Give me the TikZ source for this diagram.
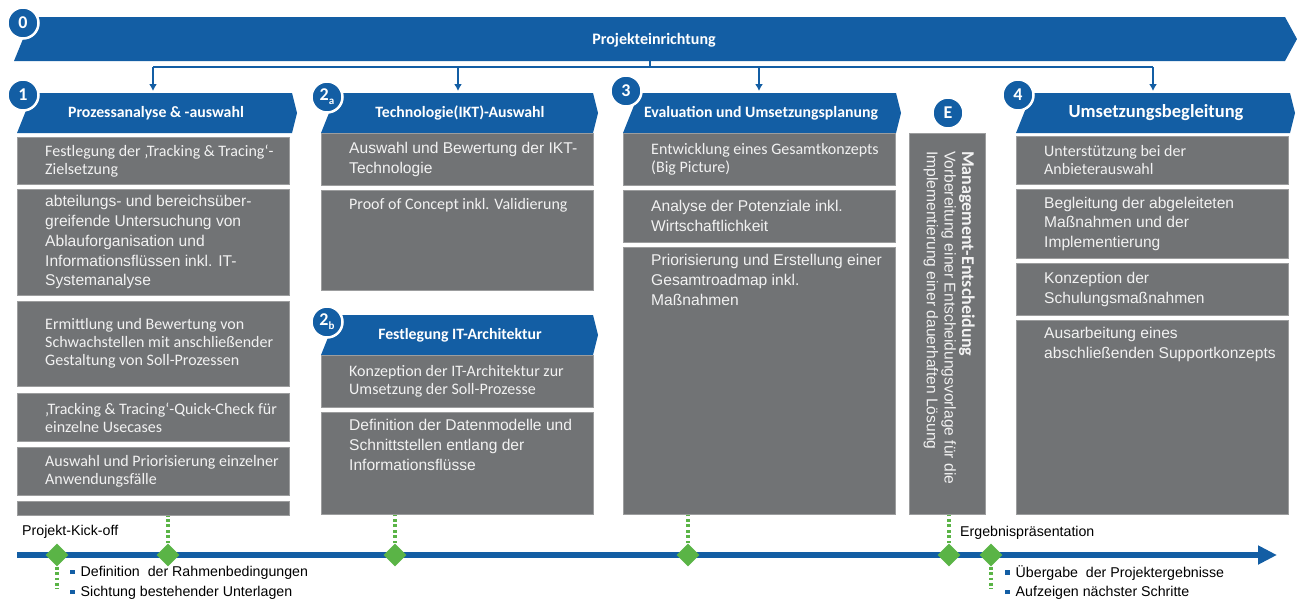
\documentclass[tikz,border=0pt]{standalone}
\usepackage{fontspec}
\setmainfont{Carlito}
\newfontfamily\arialfont{Liberation Sans}
\usetikzlibrary{arrows.meta,shapes.geometric,positioning,calc}
\definecolor{navy}{HTML}{135EA4}
\definecolor{slate}{HTML}{717375}
\definecolor{leaf}{HTML}{5AB446}
\definecolor{paper}{HTML}{F2F2F2}

\begin{document}
\begin{tikzpicture}[x=1pt,y=-1pt,>=Latex,
  numdot/.style={circle,fill=navy,draw=white,line width=2.5pt,minimum size=31pt,inner sep=0pt,
    text=white,font=\fontsize{18}{18}\selectfont\bfseries},
  head/.style={text=white,inner sep=0pt,font=\fontsize{15.8}{17}\selectfont\bfseries},
  gbox/.style={fill=slate,draw=slate!70!white,line width=0.6pt,anchor=north west,inner sep=0pt,
    minimum width=272pt},
  cal/.style={text=paper,align=left,inner sep=0pt,font=\fontsize{16}{18}\selectfont},
  ari/.style={text=paper,align=left,inner sep=0pt,font=\arialfont\fontsize{15.6}{19.8}\selectfont},
  conn/.style={navy,line width=2.2pt},
  mile/.style={diamond,fill=leaf,minimum size=23pt,inner sep=0pt},
  dots/.style={leaf,line width=3.2pt,dash pattern=on 2.8pt off 2.6pt},
  small/.style={inner sep=0pt,font=\arialfont\fontsize{14.2}{16}\selectfont}]
\useasboundingbox (0,0) rectangle (1297,603);

% banner 0
\fill[navy] (14,61) -- (32,17) -- (1285,17) -- (1297,39) -- (1285,61) -- cycle;
\node[head,font=\fontsize{16}{17}\selectfont\bfseries] (b0) at (654,40) {Projekteinrichtung};
\node[numdot] (n0) at (23,23) {0};

% branches down to the phases
\coordinate (top0) at (650,61);
\coordinate (hub) at (650,67);
\coordinate (a1) at (153,91);
\coordinate (a2) at (458,91);
\coordinate (a3) at (759,91);
\coordinate (a4) at (1153,91);
\draw[conn] (top0) -- (hub);
\draw[conn] (a1 |- hub) -- (a4 |- hub);
\foreach \c in {a1,a2,a3,a4}
  \draw[conn,-{Latex[length=7pt,width=8pt]}] (\c |- hub) -- (\c);

% phase 1
\fill[navy] (17,133) -- (33,93) -- (292,93) -- (297,113) -- (292,133) -- cycle;
\node[head] (h1) at (156,113) {Prozessanalyse \& -auswahl};
\node[numdot] (n1) at (23,95) {1};
\node[gbox,minimum height=47pt] (b1a) at (17,137) {};
\node[cal,anchor=west] (t1a) at ([xshift=28pt]b1a.west) {Festlegung der ‚Tracking \& Tracing‘-\\Zielsetzung};
\node[gbox,minimum height=106pt] (b1b) at (17,189) {};
\node[ari,anchor=west] (t1b) at ([xshift=28pt]b1b.west) {abteilungs- und bereichsüber-\\greifende Untersuchung von\\Ablauforganisation  und\\Informationsflüssen inkl. IT-\\Systemanalyse};
\node[gbox,minimum height=85pt] (b1c) at (17,301) {};
\node[cal,anchor=west] (t1c) at ([xshift=28pt]b1c.west) {Ermittlung und Bewertung von\\Schwachstellen mit anschließender\\Gestaltung von Soll-Prozessen};
\node[gbox,minimum height=48pt] (b1d) at (17,393) {};
\node[cal,anchor=west] (t1d) at ([xshift=28pt]b1d.west) {‚Tracking \& Tracing‘-Quick-Check für\\einzelne Usecases};
\node[gbox,minimum height=48pt] (b1e) at (17,447) {};
\node[cal,anchor=west] (t1e) at ([xshift=28pt]b1e.west) {Auswahl und Priorisierung einzelner\\Anwendungsfälle};
\node[gbox,minimum height=14pt] (b1f) at (17,501) {};

% phase 2a
\fill[navy] (321,133) -- (337,93) -- (593,93) -- (598,113) -- (593,133) -- cycle;
\node[head] (h2a) at (460,113) {Technologie(IKT)-Auswahl};
\node[numdot] (n2a) at (327,97) {2\raisebox{-4pt}{\fontsize{11}{11}\selectfont a}};
\node[gbox,minimum height=52pt] (b2a) at (321,133) {};
\node[ari,anchor=west] (t2a) at ([xshift=28pt]b2a.west) {Auswahl und Bewertung der IKT-\\Technologie};
\node[gbox,minimum height=100pt] (b2b) at (321,190) {};
\node[cal,anchor=north west] (t2b) at ([shift={(28pt,-8pt)}]b2b.north west) {Proof of Concept inkl. Validierung};

% phase 2b
\fill[navy] (321,355) -- (337,315) -- (593,315) -- (598,335) -- (593,355) -- cycle;
\node[head] (h2b) at (460,335) {Festlegung IT-Architektur};
\node[numdot] (n2b) at (327,322) {2\raisebox{-4pt}{\fontsize{11}{11}\selectfont b}};
\node[gbox,minimum height=52pt] (b2c) at (321,355) {};
\node[cal,anchor=west] (t2c) at ([xshift=28pt]b2c.west) {Konzeption der IT-Architektur zur\\Umsetzung der Soll-Prozesse};
\node[gbox,minimum height=102pt] (b2d) at (321,412) {};
\node[ari,anchor=north west] (t2d) at ([shift={(28pt,-7pt)}]b2d.north west) {Definition der Datenmodelle und\\Schnittstellen entlang der\\Informationsflüsse};

% phase 3
\fill[navy] (623,133) -- (639,93) -- (896,93) -- (901,113) -- (896,133) -- cycle;
\node[head] (h3) at (761,113) {Evaluation und Umsetzungsplanung};
\node[numdot] (n3) at (626,91) {3};
\node[gbox,minimum height=52pt] (b3a) at (623,133) {};
\node[cal,anchor=west] (t3a) at ([xshift=28pt]b3a.west) {Entwicklung eines Gesamtkonzepts\\(Big Picture)};
\node[gbox,minimum height=52pt] (b3b) at (623,190) {};
\node[ari,anchor=west] (t3b) at ([xshift=28pt]b3b.west) {Analyse der Potenziale inkl.\\Wirtschaftlichkeit};
\node[gbox,minimum height=267pt] (b3c) at (623,247) {};
\node[ari,anchor=north west] (t3c) at ([shift={(28pt,-7pt)}]b3c.north west) {Priorisierung und Erstellung einer\\Gesamtroadmap inkl.\\Maßnahmen};

% decision
\node[numdot] (nE) at (948,113) {E};
\node[gbox,minimum width=76pt,minimum height=381pt] (bE) at (909,133) {};
\node[rotate=-90,anchor=north west,align=left,inner sep=0pt,text=paper,
  font=\arialfont\fontsize{15.6}{17.6}\selectfont] (tE) at (975,151)
  {{\rmfamily\bfseries\fontsize{18}{17.6}\selectfont Management-Entscheidung}\\
   Vorbereitung einer Entscheidungsvorlage für die\\
   Implementierung einer  dauerhaften Lösung};

% phase 4
\fill[navy] (1016,133) -- (1032,93) -- (1290,93) -- (1295,113) -- (1290,133) -- cycle;
\node[head,font=\fontsize{18.5}{19}\selectfont\bfseries] (h4) at (1156,113) {Umsetzungsbegleitung};
\node[numdot] (n4) at (1018,95) {4};
\node[gbox,minimum height=48pt] (b4a) at (1016,136) {};
\node[cal,anchor=west] (t4a) at ([xshift=28pt]b4a.west) {Unterstützung bei der\\Anbieterauswahl};
\node[gbox,minimum height=69pt] (b4b) at (1016,189) {};
\node[ari,anchor=west] (t4b) at ([xshift=28pt]b4b.west) {Begleitung der abgeleiteten\\Maßnahmen und der\\Implementierung};
\node[gbox,minimum height=52pt] (b4c) at (1016,263) {};
\node[ari,anchor=west] (t4c) at ([xshift=28pt]b4c.west) {Konzeption der\\Schulungsmaßnahmen};
\node[gbox,minimum height=194pt] (b4d) at (1016,320) {};
\node[ari,anchor=north west] (t4d) at ([shift={(28pt,-7pt)}]b4d.north west) {Ausarbeitung eines\\abschließenden Supportkonzepts};

% time line
\coordinate (tl0) at (17,555);
\coordinate (tl1) at (1277,555);
\draw[navy,line width=5.5pt,-{Triangle[length=19pt,width=18pt]}] (tl0) -- (tl1);
\node[mile] (d1) at (57,555) {};
\node[mile] (d2) at (168,555) {};
\node[mile] (d3) at (395,555) {};
\node[mile] (d4) at (688,555) {};
\node[mile] (d5) at (949,555) {};
\node[mile] (d6) at (991,555) {};
\coordinate (k1) at (57,589);
\coordinate (k6) at (991,589);
\draw[dots] (d1.south) -- (k1);
\draw[dots] (d6.south) -- (k6);
\draw[dots] (d2.north) -- (b1f.south -| d2);
\draw[dots] (d3.north) -- (b2d.south -| d3);
\draw[dots] (d4.north) -- (b3c.south -| d4);
\draw[dots] (d5.north) -- (bE.south -| d5);

\node[small,anchor=west] (kick) at (22,532) {Projekt-Kick-off};
\node[small,anchor=west] (erg) at (960,533) {Ergebnispräsentation};
\node[small,anchor=west] (r1) at (70,573) {\textcolor{navy}{\rule[2.5pt]{4.5pt}{4.5pt}}\hspace{6pt}Definition\ \ der Rahmenbedingungen};
\node[small,anchor=west] (r2) at (70,593) {\textcolor{navy}{\rule[2.5pt]{4.5pt}{4.5pt}}\hspace{6pt}Sichtung bestehender Unterlagen};
\node[small,anchor=west] (r3) at (1005,573) {\textcolor{navy}{\rule[2.5pt]{4.5pt}{4.5pt}}\hspace{6pt}Übergabe\ \ der Projektergebnisse};
\node[small,anchor=west] (r4) at (1005,593) {\textcolor{navy}{\rule[2.5pt]{4.5pt}{4.5pt}}\hspace{6pt}Aufzeigen nächster Schritte};
\end{tikzpicture}
\end{document}
